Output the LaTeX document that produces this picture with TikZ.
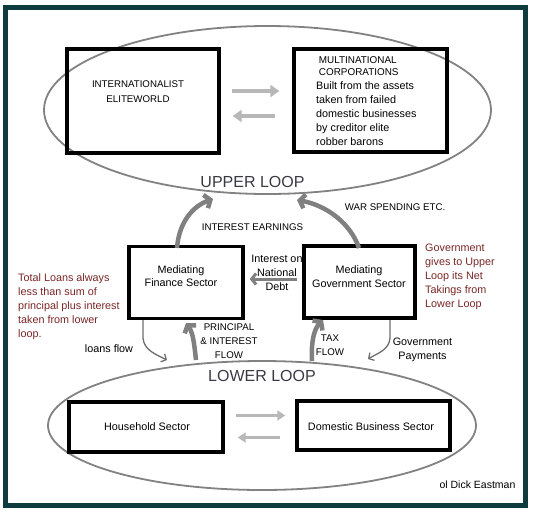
\documentclass[tikz,border=0pt]{standalone}
\usepackage{fontspec}
\setmainfont{Liberation Sans}
\usetikzlibrary{arrows.meta,shapes.geometric}
\definecolor{framecol}{HTML}{0E3C3E}
\definecolor{ellcol}{HTML}{828282}
\definecolor{flatcol}{HTML}{B8B8B8}
\definecolor{thickcol}{HTML}{808080}
\definecolor{thincol}{HTML}{6E6E6E}
\definecolor{redtxt}{HTML}{7A2626}
\definecolor{looptxt}{HTML}{3A3A44}
\begin{document}
\begin{tikzpicture}[x=1pt,y=-1pt,
  sectorbox/.style={draw=black,line width=3.4pt,inner sep=0pt},
  loopell/.style={draw=ellcol,line width=1.8pt,ellipse,inner sep=0pt},
  flatarrow/.style={draw=flatcol,line width=4pt,-{Triangle[length=9pt,width=12pt]}},
  flatarrowb/.style={draw=flatcol,line width=3pt,-{Triangle[length=8pt,width=10pt]}},
  thickarrow/.style={draw=thickcol,line width=4.5pt,-{Straight Barb[length=5pt,width=14pt]}},
  thinarrow/.style={draw=thincol,line width=1.3pt,-{Straight Barb[length=4pt,width=9pt]}},
  debtarrow/.style={draw=thickcol,line width=3pt,-{Straight Barb[length=4.5pt,width=11pt]}},
  capstxt/.style={font=\fontsize{9.7}{14}\selectfont,inner sep=0pt,text=black},
  plaintxt/.style={font=\fontsize{10.8}{14}\selectfont,inner sep=0pt,text=black},
  redlabel/.style={font=\fontsize{10.8}{14}\selectfont,inner sep=0pt,text=redtxt,align=left,anchor=west},
  looplabel/.style={font=\fontsize{16}{18}\selectfont,inner sep=0pt,text=looptxt}]
\useasboundingbox (0,0) rectangle (533,512);
\fill[white] (0,0) rectangle (533,512);
\draw[framecol,line width=5pt] (5,7) rectangle (525,505);

% loops
\node[loopell,minimum width=447pt,minimum height=168pt] (upperloop) at (267.5,110) {};
\node[loopell,minimum width=428pt,minimum height=129pt] (lowerloop) at (262,425.5) {};
\node[looplabel] (upperlbl) at (252.5,182) {UPPER LOOP};
\node[looplabel] (lowerlbl) at (262,376) {LOWER LOOP};

% boxes
\node[sectorbox,minimum width=152pt,minimum height=104pt] (lbox) at (143,101) {};
\node[sectorbox,minimum width=153pt,minimum height=103pt] (rbox) at (370.5,100.5) {};
\node[sectorbox,minimum width=114pt,minimum height=72pt] (fin) at (186,282.5) {};
\node[sectorbox,minimum width=111pt,minimum height=72pt] (gov) at (359.5,282) {};
\node[sectorbox,minimum width=154pt,minimum height=50pt] (hbox) at (146,427) {};
\node[sectorbox,minimum width=153pt,minimum height=49pt] (dbox) at (373.5,425.5) {};

% box texts
\node[capstxt,align=center,font=\fontsize{9.7}{15}\selectfont] (lboxtxt) at (138,91.5) {INTERNATIONALIST\\ELITEWORLD};
\node[plaintxt,align=left,anchor=west] (rboxtxt) at (316,101) {{\fontsize{9.9}{12}\selectfont\ MULTINATIONAL}\\[-2pt]{\fontsize{9.9}{12}\selectfont\ CORPORATIONS}\\Built from the assets\\taken from failed\\domestic businesses\\by creditor elite\\robber barons};
\node[plaintxt,align=center,font=\fontsize{10.8}{13}\selectfont] (fintxt) at (181,276.5) {Mediating\\Finance Sector};
\node[plaintxt,align=center] (govtxt) at (359,277) {Mediating\\Government Sector};
\node[plaintxt] (htxt) at (147,427) {Household Sector};
\node[plaintxt] (dtxt) at (371,427) {Domestic Business Sector};

% labels
\node[capstxt] (warlbl) at (395,207) {WAR SPENDING ETC.};
\node[capstxt] (intlbl) at (252.5,227) {INTEREST EARNINGS};
\node[plaintxt,align=center] (debtlbl) at (277,273) {Interest on\\National\\Debt};
\node[capstxt,align=center] (prinlbl) at (229,341) {PRINCIPAL\\\& INTEREST\\FLOW};
\node[capstxt,align=center] (taxlbl) at (330,345) {TAX\\FLOW};
\node[plaintxt] (loanslbl) at (109,349) {loans flow};
\node[plaintxt,align=center] (paylbl) at (422.5,350) {Government\\Payments};
\node[redlabel] (redleft) at (18,307) {Total Loans always\\less than sum of\\principal plus interest\\taken from lower\\loop.};
\node[redlabel] (redright) at (425,277) {Government\\gives to Upper\\Loop its Net\\Takings from\\Lower Loop};
\node[plaintxt,font=\fontsize{10.5}{12}\selectfont] (credit) at (477.5,485) {ol Dick Eastman};

% flat arrows inside loops
\draw[flatarrow,shorten <=11pt,shorten >=13pt] ([yshift=10pt]lbox.east) -- ([yshift=10pt]lbox.east -| rbox.west);
\draw[flatarrow,shorten <=17pt,shorten >=12pt] ([yshift=-15.5pt]rbox.west) -- ([yshift=-15.5pt]rbox.west -| lbox.east);
\draw[flatarrowb,shorten <=11pt,shorten >=10pt] ([yshift=11.5pt]hbox.east) -- ([yshift=11.5pt]hbox.east -| dbox.west);
\draw[flatarrowb,shorten <=15pt,shorten >=13pt] ([yshift=-12pt]dbox.west) -- ([yshift=-12pt]dbox.west -| hbox.east);

% debt arrow
\draw[debtarrow,shorten <=5pt,shorten >=5pt] ([yshift=3pt]gov.west) -- ([yshift=3pt]gov.west -| fin.east);

% coordinates for curved arrows
\coordinate (ieS) at (177,248);
\coordinate (ieT) at (213,199);
\coordinate (wsS) at (359,248);
\coordinate (wsT) at (297,200);
\coordinate (lfS) at (143,320);
\coordinate (lfM) at (143,338);
\coordinate (lfT) at (167,360);
\coordinate (gpS) at (390,320);
\coordinate (gpM) at (390,338);
\coordinate (gpT) at (368,359);
\coordinate (piS) at (196,360);
\coordinate (piT) at (186,323);
\coordinate (txS) at (312,361);
\coordinate (txT) at (323,320);

\draw[thickarrow] (ieS) .. controls (179,222) and (193,206) .. (ieT);
\draw[thickarrow] (wsS) .. controls (350,222) and (325,205) .. (wsT);
\draw[thickarrow] (piS) .. controls (194,342) and (193,333) .. (piT);
\draw[thickarrow] (txS) .. controls (311,342) and (314,329) .. (txT);
\draw[thinarrow] (lfS) -- (lfM) .. controls (144,350) and (155,354) .. (lfT);
\draw[thinarrow] (gpS) -- (gpM) .. controls (389,350) and (378,353) .. (gpT);
\end{tikzpicture}
\end{document}
